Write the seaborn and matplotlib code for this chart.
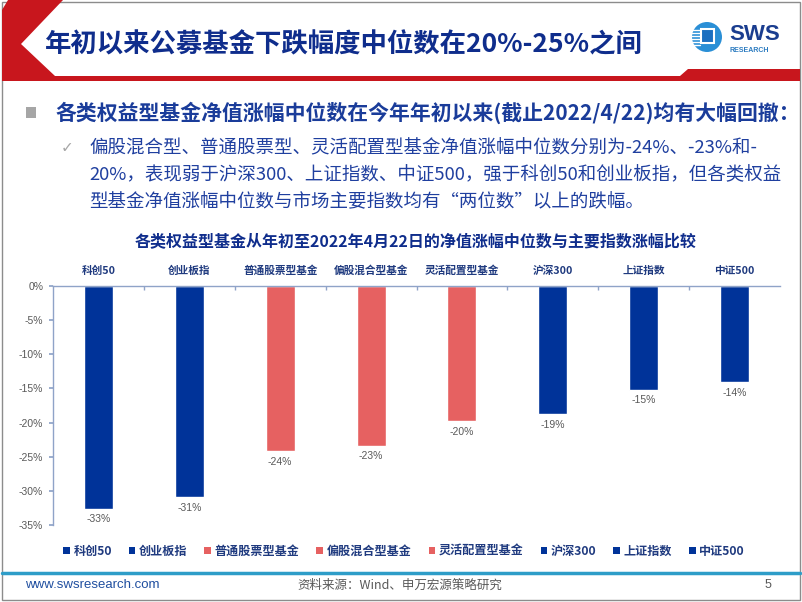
import matplotlib
matplotlib.use("Agg")
import matplotlib.pyplot as plt
from matplotlib.patches import Polygon, Rectangle, Ellipse, Patch
import pandas as pd
import seaborn as sns

# 数据（从图上读出的中位数涨幅，%）
categories = ["科创50", "创业板指", "普通股票型基金", "偏股混合型基金",
              "灵活配置型基金", "沪深300", "上证指数", "中证500"]
values = [-32.6, -30.9, -24.2, -23.4, -19.8, -18.8, -15.2, -14.1]
groups = ["指数", "指数", "基金", "基金", "基金", "指数", "指数", "指数"]
y_ticks = [0, -5, -10, -15, -20, -25, -30, -35]

W, H = 802, 602


def fx(x):
    return x / W


def fy(y):
    return 1 - y / H


sns.set_theme(style="white")
CJK = ["Noto Sans CJK SC", "DejaVu Sans"]
NUM = ["Liberation Sans", "Noto Sans CJK SC", "DejaVu Sans"]
plt.rcParams["font.family"] = CJK

navy = "#0F2D8C"
text_blue = "#1F3F9F"
label_blue = "#1F3A7F"
bar_blue = "#003399"
bar_red = "#E66161"
gray = "#595959"
spine_c = "#8FA3C8"
palette = {"指数": bar_blue, "基金": bar_red}

fig = plt.figure(figsize=(8.02, 6.02), dpi=100)
fig.patch.set_facecolor("white")

# 页面边框
fig.patches.append(Rectangle((fx(2), fy(600)), fx(798), 598 / H, transform=fig.transFigure,
                             fill=False, edgecolor="#8C8C8C", lw=1))

# 标题栏红色形状
red_pts = [(8, 0), (63, 0), (21, 44), (55, 76), (680, 76), (688, 69), (800, 69),
           (800, 81), (2, 81), (2, 10)]
fig.patches.append(Polygon([(fx(x), fy(y)) for x, y in red_pts], closed=True,
                           transform=fig.transFigure, facecolor="#C8161D", edgecolor="none"))
fig.text(fx(45), fy(45), "年初以来公募基金下跌幅度中位数在20%-25%之间", fontsize=19,
         fontweight="bold", color=navy, va="center", ha="left")

# SWS logo
fig.patches.append(Ellipse((fx(707), fy(37)), 30 / W, 30 / H, transform=fig.transFigure,
                           facecolor="#2A8FD6", edgecolor="none"))
fig.patches.append(Rectangle((fx(701), fy(43)), 13 / W, 14 / H, transform=fig.transFigure,
                             facecolor="#1C6FC0", edgecolor="white", lw=1.5))
for yy in [30, 33, 36, 39, 42, 45]:
    fig.lines.append(plt.Line2D([fx(691), fx(700)], [fy(yy), fy(yy)], transform=fig.transFigure,
                                color="white", lw=1))
fig.text(fx(729), fy(35), "SWS", fontsize=16, fontweight="bold", color="#1A3D8F",
         family=NUM, va="center", ha="left")
fig.text(fx(730), fy(50), "RESEARCH", fontsize=5, fontweight="bold", color="#2B7BC0",
         family=NUM, va="center", ha="left")

# 要点文字
fig.patches.append(Rectangle((fx(26), fy(118)), 10 / W, 11 / H, transform=fig.transFigure,
                             facecolor="#A6A6A6", edgecolor="none"))
fig.text(fx(55), fy(113), "各类权益型基金净值涨幅中位数在今年年初以来(截止2022/4/22)均有大幅回撤：",
         fontsize=15, fontweight="bold", color="#1A3C9A", va="center", ha="left")
fig.text(fx(61), fy(148), "✓", fontsize=11, color="#A6A6A6", family=["DejaVu Sans"],
         va="center", ha="left")
body = ["偏股混合型、普通股票型、灵活配置型基金净值涨幅中位数分别为-24%、-23%和-",
        "20%，表现弱于沪深300、上证指数、中证500，强于科创50和创业板指，但各类权益",
        "型基金净值涨幅中位数与市场主要指数均有“两位数”以上的跌幅。"]
for i, line in enumerate(body):
    fig.text(fx(89), fy(148 + 27 * i), line, fontsize=13.3, color=text_blue,
             va="center", ha="left")

# 图表标题
fig.text(fx(416), fy(241), "各类权益型基金从年初至2022年4月22日的净值涨幅中位数与主要指数涨幅比较",
         fontsize=11.5, fontweight="bold", color=navy, va="center", ha="center")

# 柱状图
df = pd.DataFrame({"类别": categories, "涨幅": values, "类型": groups})
ax = fig.add_axes([fx(53), fy(525), fx(780) - fx(53), fy(286) - fy(525)])
sns.barplot(data=df, x="类别", y="涨幅", hue="类型", palette=palette, dodge=False,
            width=0.32, saturation=1, legend=False, ax=ax)
ax.set_xlim(-0.5, len(categories) - 0.5)
ax.set_ylim(-35, 0)
ax.set_xlabel("")
ax.set_ylabel("")
ax.set_facecolor("white")

for s in ["right", "bottom"]:
    ax.spines[s].set_visible(False)
for s in ["top", "left"]:
    ax.spines[s].set_visible(True)
    ax.spines[s].set_color(spine_c)
    ax.spines[s].set_linewidth(1)

ax.xaxis.tick_top()
ax.set_xticks(range(len(categories)))
ax.set_xticklabels(categories)
ax.set_xticks([i + 0.5 for i in range(len(categories) - 1)], minor=True)
ax.tick_params(axis="x", which="major", length=0, pad=7, labelsize=7.7, labelcolor=label_blue)
ax.tick_params(axis="x", which="minor", top=True, direction="in", length=3, color=spine_c)
for lab in ax.get_xticklabels():
    lab.set_fontweight("bold")

ax.set_yticks(y_ticks)
ax.set_yticklabels([f"{t}%" for t in y_ticks])
ax.tick_params(axis="y", left=True, length=3, color=spine_c, labelsize=7.5,
               labelcolor=gray, pad=4)
for lab in ax.get_yticklabels():
    lab.set_fontfamily(NUM)

for i, v in enumerate(values):
    ax.annotate(f"{v:.0f}%", xy=(i, v), xytext=(0, -4), textcoords="offset points",
                ha="center", va="top", fontsize=7.5, color=gray, family=NUM)

# 图例
handles = [Patch(facecolor=palette[g], edgecolor="none", label=c) for c, g in zip(categories, groups)]
leg = fig.legend(handles=handles, loc="center", bbox_to_anchor=(fx(404), fy(551)), ncol=8,
                 frameon=False, fontsize=8.7, handlelength=0.55, handleheight=0.55,
                 handletextpad=0.3, columnspacing=1.4, borderpad=0)
for t in leg.get_texts():
    t.set_color(label_blue)
    t.set_fontweight("bold")

# 页脚
fig.lines.append(plt.Line2D([fx(2), fx(800)], [fy(573), fy(573)], transform=fig.transFigure,
                            color="#2E9DC8", lw=2.5))
fig.text(fx(25), fy(585), "www.swsresearch.com", fontsize=9.5, color="#1F4E9F", family=NUM,
         va="center", ha="left")
fig.text(fx(400), fy(585), "资料来源：Wind、申万宏源策略研究", fontsize=9, color=gray,
         va="center", ha="center")
fig.text(fx(765), fy(585), "5", fontsize=9, color=gray, family=NUM, va="center", ha="left")

fig.savefig("out.png", dpi=100, facecolor="white")
